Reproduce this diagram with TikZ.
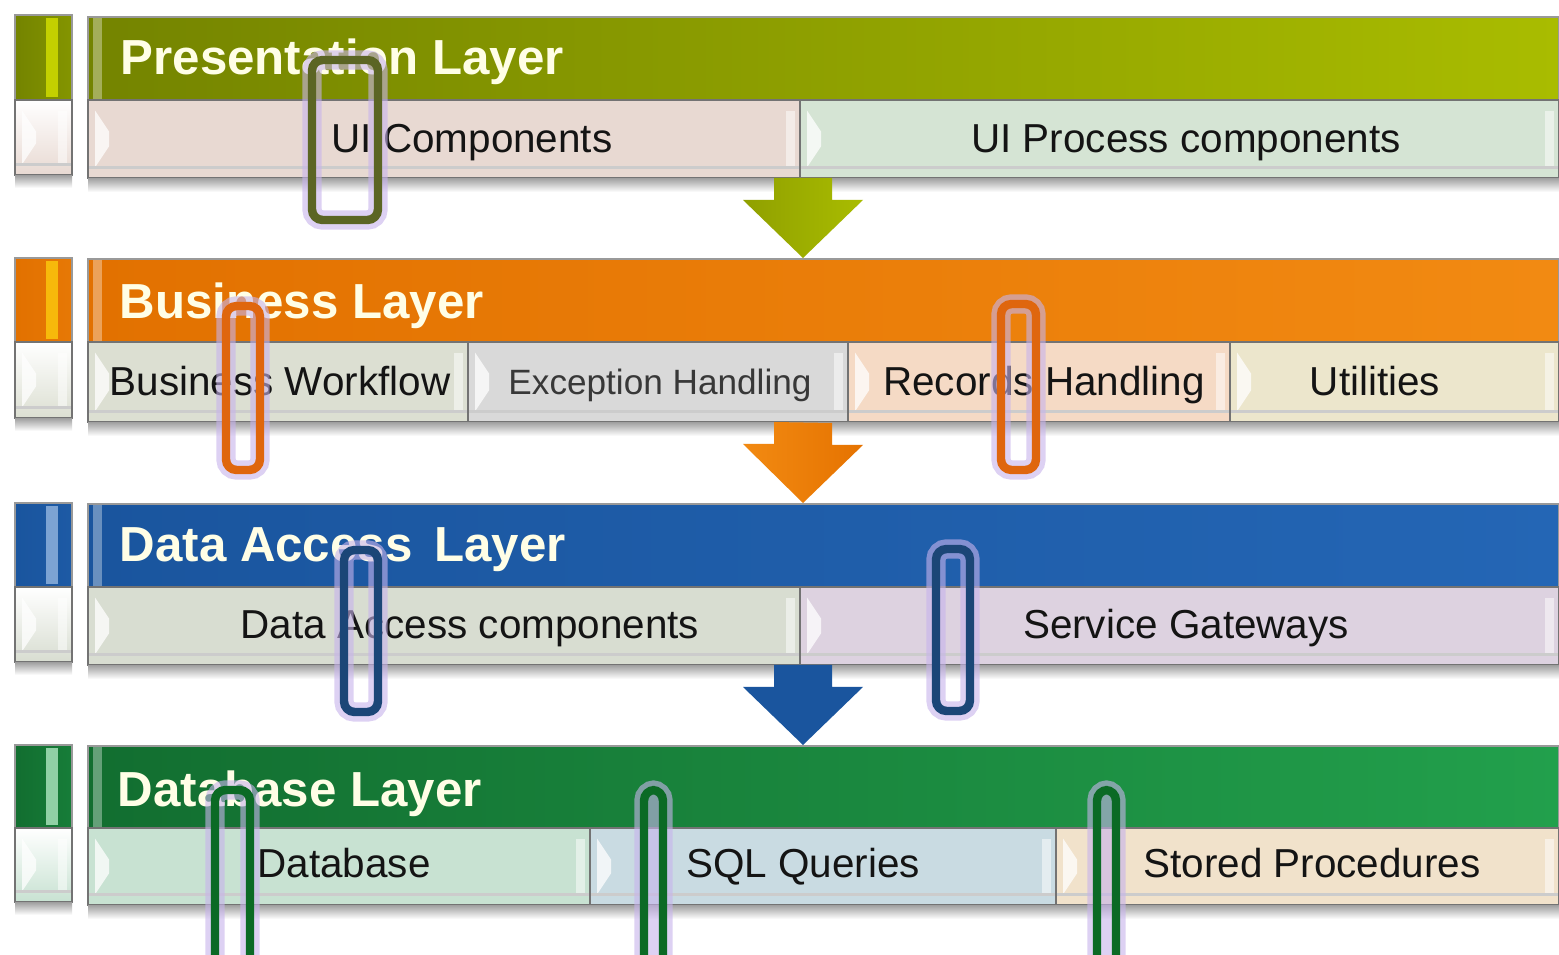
\documentclass[tikz,border=0pt]{standalone}
\usepackage{fontspec}
\setmainfont{Liberation Sans}
\usepackage{tikz}

\definecolor{presL}{HTML}{748400}
\definecolor{presR}{HTML}{A9BC00}
\definecolor{bizL}{HTML}{E27100}
\definecolor{bizR}{HTML}{F28A12}
\definecolor{dataL}{HTML}{1A559E}
\definecolor{dataR}{HTML}{2466B5}
\definecolor{dbL}{HTML}{126E30}
\definecolor{dbR}{HTML}{22A04C}
\definecolor{glowc}{HTML}{C7B3EC}
% sub-box fills
\definecolor{uiC}{HTML}{E8D9D2}
\definecolor{uiP}{HTML}{D5E4D4}
\definecolor{bwf}{HTML}{DCDFD2}
\definecolor{exc}{HTML}{D9D9D9}
\definecolor{rec}{HTML}{F5DAC5}
\definecolor{util}{HTML}{ECE6CC}
\definecolor{dac}{HTML}{D8DDD1}
\definecolor{svc}{HTML}{DDD2E0}
\definecolor{dbase}{HTML}{C8E2D2}
\definecolor{sql}{HTML}{C9DBE2}
\definecolor{stp}{HTML}{F1E2CB}
% frame colours
\definecolor{frOlive}{HTML}{5B6524}
\definecolor{frOrange}{HTML}{DF660E}
\definecolor{frNavy}{HTML}{1B4677}
\definecolor{frGreen}{HTML}{0B6A25}

\tikzset{
  hdr/.style={draw=black!40, line width=0.5pt,
    path picture={\fill[white, opacity=0.35] ([xshift=1.5pt]path picture bounding box.north west)
      rectangle ([xshift=4pt]path picture bounding box.south west);}},
  subbox/.style={draw=black!55, line width=0.6pt,
    path picture={
      \fill[white, opacity=0.75] ([xshift=2pt,yshift=-3pt]path picture bounding box.north west)
        -- ([xshift=6pt,yshift=-9pt]path picture bounding box.north west)
        -- ([xshift=6pt,yshift=9pt]path picture bounding box.south west)
        -- ([xshift=2pt,yshift=3pt]path picture bounding box.south west) -- cycle;
      \fill[white, opacity=0.5] ([xshift=-1.5pt,yshift=-3pt]path picture bounding box.north east)
        rectangle ([xshift=-4pt,yshift=3pt]path picture bounding box.south east);
      \draw[black!20, line width=1pt] ([yshift=3pt]path picture bounding box.south west)
        -- ([yshift=3pt]path picture bounding box.south east);}},
  title/.style={anchor=west, inner sep=0pt, text=white!90!yellow,
    font=\bfseries\fontsize{14}{16}\selectfont},
  label/.style={text=black!92, text height=8.3pt, text depth=2.3pt,
    font=\fontsize{11.5}{13}\selectfont},
  shadowbar/.style={top color=black!35, bottom color=white},
  hilite/.style={rounded corners=3pt, line width=2.4pt,
    preaction={draw=glowc, line width=5.5pt, opacity=0.6}}
}

\begin{document}
\begin{tikzpicture}[x=0.01cm, y=-0.01cm]
\useasboundingbox[fill=white] (0,0) rectangle (1559,955);

% presentation layer
\shade[left color=presL, right color=presL!70!presR, draw=black!40] (15,15) rectangle (72,100);
\fill[presR!70!yellow] (46,18) rectangle (58,97);
\shade[top color=white, bottom color=uiC, draw=black!50, subbox] (15,100) rectangle (72,175);
\shade[hdr, left color=presL, right color=presR] (88,17) rectangle (1559,100);
\node[title] (presT) at (120,62) {Presentation Layer};
\draw[subbox, fill=uiC] (88,100) rectangle (800,178);
\draw[subbox, fill=uiP] (800,100) rectangle (1559,178);
\node[label] (uic) at (472,142) {UI Components};
\node[label] (uip) at (1186,142) {UI Process components};
\shade[shadowbar] (88,179) rectangle (1559,192);
\shade[shadowbar] (15,176) rectangle (72,188);

% business layer
\shade[left color=bizL, right color=bizL!70!bizR, draw=black!40] (15,258) rectangle (72,342);
\fill[bizR!60!yellow] (46,261) rectangle (58,339);
\shade[top color=white, bottom color=bwf, draw=black!50, subbox] (15,342) rectangle (72,418);
\shade[hdr, left color=bizL, right color=bizR] (88,259) rectangle (1559,342);
\node[title] (bizT) at (119,306) {Business Layer};
\draw[subbox, fill=bwf] (88,342) rectangle (468,422);
\draw[subbox, fill=exc] (468,342) rectangle (848,422);
\draw[subbox, fill=rec] (848,342) rectangle (1230,422);
\draw[subbox, fill=util] (1230,342) rectangle (1559,422);
\node[label] (bwf) at (280,385) {Business Workflow};
\node[label, text=black!78, font=\fontsize{10}{12}\selectfont] (exc) at (660,384) {Exception Handling};
\node[label] (rec) at (1044,385) {Records Handling};
\node[label] (util) at (1375,385) {Utilities};
\shade[shadowbar] (88,423) rectangle (1559,436);
\shade[shadowbar] (15,419) rectangle (72,431);

% data access layer
\shade[left color=dataL, right color=dataL!70!dataR, draw=black!40] (15,503) rectangle (72,587);
\fill[dataR!60!white] (46,506) rectangle (58,584);
\shade[top color=white, bottom color=dac, draw=black!50, subbox] (15,587) rectangle (72,662);
\shade[hdr, left color=dataL, right color=dataR] (88,504) rectangle (1559,587);
\node[title] (dataT) at (119,550) {Data Access\, Layer};
\draw[subbox, fill=dac] (88,587) rectangle (800,665);
\draw[subbox, fill=svc] (800,587) rectangle (1559,665);
\node[label] (dac) at (470,628) {Data Access components};
\node[label] (svc) at (1186,628) {Service Gateways};
\shade[shadowbar] (88,666) rectangle (1559,679);
\shade[shadowbar] (15,663) rectangle (72,675);

% database layer
\shade[left color=dbL, right color=dbL!70!dbR, draw=black!40] (15,745) rectangle (72,828);
\fill[dbR!50!white] (46,748) rectangle (58,825);
\shade[top color=white, bottom color=dbase, draw=black!50, subbox] (15,828) rectangle (72,902);
\shade[hdr, left color=dbL, right color=dbR] (88,746) rectangle (1559,828);
\node[title] (dbT) at (117,794) {Database Layer};
\draw[subbox, fill=dbase] (88,828) rectangle (590,905);
\draw[subbox, fill=sql] (590,828) rectangle (1056,905);
\draw[subbox, fill=stp] (1056,828) rectangle (1559,905);
\node[label] (dbase) at (344,867) {Database};
\node[label] (sql) at (803,867) {SQL Queries};
\node[label] (stp) at (1312,867) {Stored Procedures};
\shade[shadowbar] (88,906) rectangle (1559,919);
\shade[shadowbar] (15,903) rectangle (72,915);

% arrows between the layers
\coordinate (presB) at (803,178);
\coordinate (bizTop) at (803,258);
\coordinate (bizB) at (803,422);
\coordinate (dataTop) at (803,503);
\coordinate (dataB) at (803,665);
\coordinate (dbTop) at (803,745);
\shade[left color=presR!85!black, middle color=yellow!60!presR, right color=presR]
  (presB) ++(-29,0) -- ++(0,22) -- ++(-31,0) -- (bizTop) -- ++(60,-58) -- ++(-31,0) -- ++(0,-22) -- cycle;
\shade[left color=bizR, middle color=yellow!60!orange, right color=orange!90!black]
  (bizB) ++(-29,0) -- ++(0,22) -- ++(-31,0) -- (dataTop) -- ++(60,-58) -- ++(-31,0) -- ++(0,-22) -- cycle;
\shade[left color=dataL, middle color=dataR!60!white, right color=dataL]
  (dataB) ++(-29,0) -- ++(0,22) -- ++(-31,0) -- (dbTop) -- ++(60,-58) -- ++(-31,0) -- ++(0,-22) -- cycle;

% highlight frames
\draw[hilite, draw=frOlive] (312,60) rectangle (378,220);
\draw[hilite, draw=frOrange] (226,306) rectangle (260,470);
\draw[hilite, draw=frOrange] (1001,304) rectangle (1036,470);
\draw[hilite, draw=frNavy] (344,550) rectangle (378,712);
\draw[hilite, draw=frNavy] (936,549) rectangle (970,711);
\draw[hilite, draw=frGreen] (215,790) rectangle (250,975);
\draw[hilite, draw=frGreen] (644,790) rectangle (663,975);
\draw[hilite, draw=frGreen] (1097,790) rectangle (1116,975);
\end{tikzpicture}
\end{document}
